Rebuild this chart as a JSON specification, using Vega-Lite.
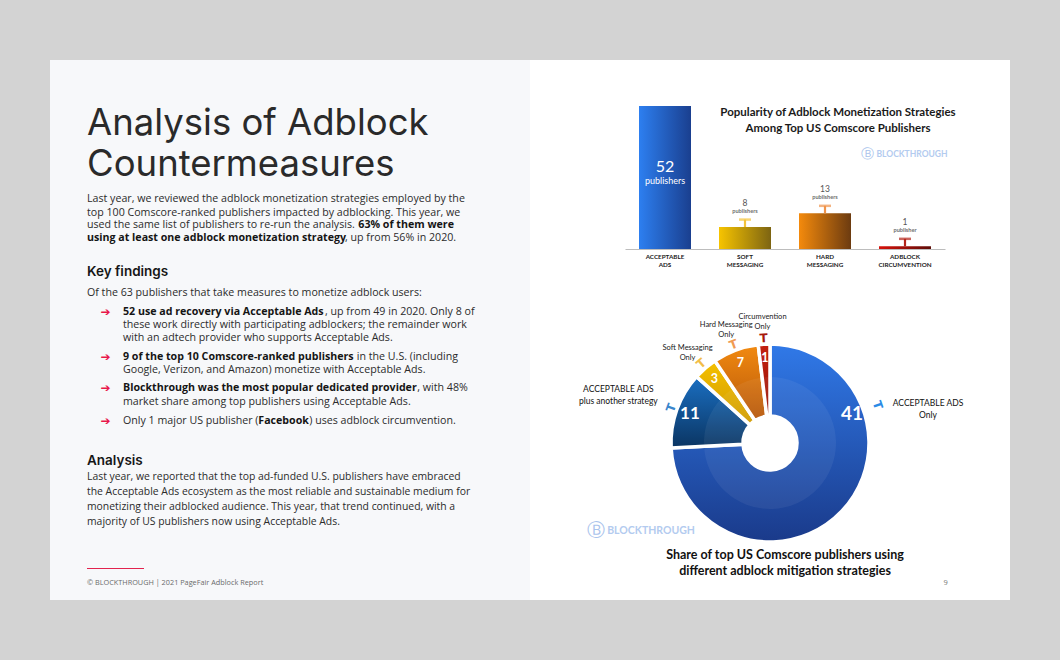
{
  "$schema": "https://vega.github.io/schema/vega-lite/v6.json",
  "background": "#d3d3d3",
  "padding": {"left": 50, "top": 60, "right": 50, "bottom": 60},
  "spacing": 0,
  "bounds": "flush",
  "config": {"view": {"stroke": null}, "concat": {"spacing": 0}},
  "hconcat": [
    {
      "width": 480,
      "height": 540,
      "view": {"fill": "#f7f8fa", "stroke": null},
      "data": {"values": [
        {"part": "title", "x": 37, "y": 75, "t": "Analysis of Adblock"},
        {"part": "title", "x": 37, "y": 115.7, "t": "Countermeasures"},
        {"part": "body", "x": 37, "y": 139.3, "t": "Last year, we reviewed the adblock monetization strategies employed by the"},
        {"part": "body", "x": 37, "y": 152.7, "t": "top 100 Comscore-ranked publishers impacted by adblocking. This year, we"},
        {"part": "body", "x": 37, "y": 165.3, "t": "used the same list of publishers to re-run the analysis."},
        {"part": "bold", "x": 308.3, "y": 165.3, "t": "63% of them were"},
        {"part": "bold", "x": 37, "y": 178, "t": "using at least one adblock monetization strategy"},
        {"part": "body", "x": 295, "y": 178, "t": ", up from 56% in 2020."},
        {"part": "head", "x": 37, "y": 216, "t": "Key findings"},
        {"part": "body", "x": 37, "y": 233.3, "t": "Of the 63 publishers that take measures to monetize adblock users:"},
        {"part": "arrow", "x": 55.5, "y": 251.7, "t": "➔"},
        {"part": "bold", "x": 73, "y": 251.7, "t": "52 use ad recovery via Acceptable Ads"},
        {"part": "body", "x": 275, "y": 251.7, "t": ", up from 49 in 2020. Only 8 of"},
        {"part": "body", "x": 73, "y": 265, "t": "these work directly with participating adblockers; the remainder work"},
        {"part": "body", "x": 73, "y": 278.3, "t": "with an adtech provider who supports Acceptable Ads."},
        {"part": "arrow", "x": 55.5, "y": 297.3, "t": "➔"},
        {"part": "bold", "x": 73, "y": 297.3, "t": "9 of the top 10 Comscore-ranked publishers"},
        {"part": "body", "x": 306.8, "y": 297.3, "t": "in the U.S. (including"},
        {"part": "body", "x": 73, "y": 309.5, "t": "Google, Verizon, and Amazon) monetize with Acceptable Ads."},
        {"part": "arrow", "x": 55.5, "y": 328.3, "t": "➔"},
        {"part": "bold", "x": 73, "y": 328.3, "t": "Blockthrough was the most popular dedicated provider"},
        {"part": "body", "x": 367.3, "y": 328.3, "t": ", with 48%"},
        {"part": "body", "x": 73, "y": 342.3, "t": "market share among top publishers using Acceptable Ads."},
        {"part": "arrow", "x": 55.5, "y": 361, "t": "➔"},
        {"part": "body", "x": 73, "y": 361, "t": "Only 1 major US publisher ("},
        {"part": "bold", "x": 208.3, "y": 361, "t": "Facebook"},
        {"part": "body", "x": 259.3, "y": 361, "t": ") uses adblock circumvention."},
        {"part": "head", "x": 37, "y": 405, "t": "Analysis"},
        {"part": "body2", "x": 37, "y": 416.7, "t": "Last year, we reported that the top ad-funded U.S. publishers have embraced"},
        {"part": "body2", "x": 37, "y": 432, "t": "the Acceptable Ads ecosystem as the most reliable and sustainable medium for"},
        {"part": "body2", "x": 37, "y": 447, "t": "monetizing their adblocked audience. This year, that trend continued, with a"},
        {"part": "body2", "x": 37, "y": 461.7, "t": "majority of US publishers now using Acceptable Ads."},
        {"part": "foot", "x": 37, "y": 523, "t": "© BLOCKTHROUGH | 2021 PageFair Adblock Report"}
      ]},
      "encoding": {
        "x": {"field": "x", "type": "quantitative", "scale": {"domain": [0, 480], "range": [0, 480], "nice": false, "zero": false}, "axis": null},
        "y": {"field": "y", "type": "quantitative", "scale": {"domain": [0, 540], "range": [0, 540], "nice": false, "zero": false}, "axis": null},
        "text": {"field": "t", "type": "nominal"}
      },
      "layer": [
        {"transform": [{"filter": "datum.part === 'title'"}], "mark": {"type": "text", "align": "left", "baseline": "alphabetic", "font": "Inter", "fontSize": 36.5, "fontWeight": 400, "color": "#2a2a2a"}},
        {"transform": [{"filter": "datum.part === 'head'"}], "mark": {"type": "text", "align": "left", "baseline": "alphabetic", "font": "Inter", "fontSize": 13.5, "fontWeight": 600, "color": "#161616"}},
        {"transform": [{"filter": "datum.part === 'body'"}], "mark": {"type": "text", "align": "left", "baseline": "middle", "font": "Open Sans", "fontSize": 10.65, "fontWeight": 400, "color": "#2b2b2b"}},
        {"transform": [{"filter": "datum.part === 'body2'"}], "mark": {"type": "text", "align": "left", "baseline": "middle", "font": "Open Sans", "fontSize": 10.4, "fontWeight": 400, "color": "#2b2b2b"}},
        {"transform": [{"filter": "datum.part === 'bold'"}], "mark": {"type": "text", "align": "left", "baseline": "middle", "font": "Open Sans", "fontSize": 10.65, "fontWeight": 700, "color": "#151515"}},
        {"transform": [{"filter": "datum.part === 'arrow'"}], "mark": {"type": "text", "align": "center", "baseline": "middle", "font": "DejaVu Sans", "fontSize": 12, "color": "#e8174a"}},
        {"transform": [{"filter": "datum.part === 'foot'"}], "mark": {"type": "text", "align": "left", "baseline": "middle", "font": "Open Sans", "fontSize": 7.3, "color": "#6a6a6a"}},
        {"transform": [{"filter": "datum.part === 'foot'"}], "mark": {"type": "rule", "color": "#e2234e", "strokeWidth": 1.2},
         "encoding": {"x": {"datum": 37, "type": "quantitative"}, "x2": {"datum": 94}, "y": {"datum": 508.5, "type": "quantitative"}, "text": null}}
      ]
    },
    {
      "spacing": 0,
      "bounds": "flush",
      "vconcat": [
        {
          "width": 480,
          "height": 226,
          "view": {"fill": "white", "stroke": null},
          "title": {
            "text": ["Popularity of Adblock Monetization Strategies", "Among Top US Comscore Publishers"],
            "orient": "top", "anchor": "middle", "frame": "group", "baseline": "top", "offset": 0,
            "dx": 68, "dy": 74, "font": "Lato", "fontSize": 11.5, "fontWeight": 700, "color": "#1a1a1a", "lineHeight": 16
          },
          "data": {"values": [
            {"cat": "ACCEPTABLE ADS", "n": 52, "hi": null, "unit": "publishers"},
            {"cat": "SOFT MESSAGING", "n": 8, "hi": 10.7, "unit": "publishers"},
            {"cat": "HARD MESSAGING", "n": 13, "hi": 15.7, "unit": "publishers"},
            {"cat": "ADBLOCK CIRCUMVENTION", "n": 1, "hi": 3.7, "unit": "publisher"}
          ]},
          "encoding": {
            "x": {
              "field": "cat", "type": "nominal", "sort": null,
              "scale": {"domain": ["ACCEPTABLE ADS", "SOFT MESSAGING", "HARD MESSAGING", "ADBLOCK CIRCUMVENTION"], "range": [95, 415], "paddingInner": 0.35, "paddingOuter": 0.175},
              "axis": {"title": null, "orient": "bottom", "offset": -37, "domainColor": "#bdbdbd", "domainWidth": 1, "ticks": false, "grid": false, "labelAngle": 0,
                       "labelFont": "Lato", "labelFontSize": 6.3, "labelFontWeight": 700, "labelColor": "#222222", "labelPadding": 4,
                       "labelBaseline": "top", "labelLineHeight": 8.5, "labelLimit": 0, "labelExpr": "split(datum.label, ' ')"}
            }
          },
          "layer": [
            {
              "mark": {"type": "bar"},
              "encoding": {
                "y": {"field": "n", "type": "quantitative", "scale": {"domain": [-13.45, 68.73], "nice": false, "zero": false}, "axis": null},
                "y2": {"datum": 0},
                "color": {
                  "condition": [
                    {"test": "datum.cat === 'ACCEPTABLE ADS'", "value": {"gradient": "linear", "x1": 0, "y1": 0, "x2": 1, "y2": 0, "stops": [{"offset": 0, "color": "#2d7ff0"}, {"offset": 1, "color": "#1a3f8f"}]}},
                    {"test": "datum.cat === 'SOFT MESSAGING'", "value": {"gradient": "linear", "x1": 0, "y1": 0, "x2": 1, "y2": 0, "stops": [{"offset": 0, "color": "#f7c400"}, {"offset": 1, "color": "#7d6412"}]}},
                    {"test": "datum.cat === 'HARD MESSAGING'", "value": {"gradient": "linear", "x1": 0, "y1": 0, "x2": 1, "y2": 0, "stops": [{"offset": 0, "color": "#f48a0c"}, {"offset": 1, "color": "#6c3b10"}]}}
                  ],
                  "value": {"gradient": "linear", "x1": 0, "y1": 0, "x2": 1, "y2": 0, "stops": [{"offset": 0, "color": "#d8120b"}, {"offset": 1, "color": "#5e0d08"}]}
                }
              }
            },
            {
              "transform": [{"filter": "datum.hi != null"}],
              "mark": {"type": "rule", "strokeWidth": 2.2},
              "encoding": {
                "y": {"field": "n", "type": "quantitative", "axis": null},
                "y2": {"field": "hi"},
                "color": {"field": "cat", "type": "nominal", "legend": null,
                          "scale": {"domain": ["ACCEPTABLE ADS", "SOFT MESSAGING", "HARD MESSAGING", "ADBLOCK CIRCUMVENTION"], "range": ["#2d7ff0", "#f3c33a", "#ef934a", "#b3241a"]}}
              }
            },
            {
              "transform": [{"filter": "datum.hi != null"}],
              "mark": {"type": "tick", "thickness": 2.5, "size": 12, "orient": "horizontal"},
              "encoding": {
                "y": {"field": "hi", "type": "quantitative", "axis": null},
                "color": {"field": "cat", "type": "nominal", "legend": null}
              }
            },
            {
              "transform": [{"filter": "datum.cat !== 'ACCEPTABLE ADS'"}],
              "mark": {"type": "text", "dy": -24.5, "font": "Lato", "fontSize": 8.5, "color": "#555555", "baseline": "middle"},
              "encoding": {"y": {"field": "n", "type": "quantitative", "axis": null}, "text": {"field": "n", "type": "quantitative"}}
            },
            {
              "transform": [{"filter": "datum.cat !== 'ACCEPTABLE ADS'"}],
              "mark": {"type": "text", "dy": -16.3, "font": "Lato", "fontSize": 5.6, "fontWeight": 700, "color": "#707070", "baseline": "middle"},
              "encoding": {"y": {"field": "n", "type": "quantitative", "axis": null}, "text": {"field": "unit", "type": "nominal"}}
            },
            {
              "transform": [{"filter": "datum.cat === 'ACCEPTABLE ADS'"}],
              "mark": {"type": "text", "dy": 61, "font": "Lato", "fontSize": 16, "color": "white", "baseline": "middle"},
              "encoding": {"y": {"field": "n", "type": "quantitative", "axis": null}, "text": {"field": "n", "type": "quantitative"}}
            },
            {
              "transform": [{"filter": "datum.cat === 'ACCEPTABLE ADS'"}],
              "mark": {"type": "text", "dy": 75, "font": "Lato", "fontSize": 9, "color": "white", "baseline": "middle"},
              "encoding": {"y": {"field": "n", "type": "quantitative", "axis": null}, "text": {"field": "unit", "type": "nominal"}}
            },
            {
              "transform": [{"filter": "datum.cat === 'ACCEPTABLE ADS'"}],
              "mark": {"type": "text", "dx": -37.7, "fontSize": 13, "color": "#a9c3ec", "baseline": "middle", "font": "DejaVu Sans"},
              "encoding": {"x": {"datum": "ADBLOCK CIRCUMVENTION"}, "y": {"datum": 34.5, "type": "quantitative", "axis": null}, "text": {"value": "Ⓑ"}}
            },
            {
              "transform": [{"filter": "datum.cat === 'ACCEPTABLE ADS'"}],
              "mark": {"type": "text", "dx": 7, "fontSize": 8.5, "fontWeight": 700, "font": "Lato", "color": "#b3cbef", "baseline": "middle"},
              "encoding": {"x": {"datum": "ADBLOCK CIRCUMVENTION"}, "y": {"datum": 34.5, "type": "quantitative", "axis": null}, "text": {"value": "BLOCKTHROUGH"}}
            }
          ]
        },
        {
          "width": 480,
          "height": 314,
          "view": {"fill": "white", "stroke": null},
          "title": {
            "text": ["Share of top US Comscore publishers using", "different adblock mitigation strategies"],
            "orient": "bottom", "anchor": "middle", "frame": "group", "baseline": "top", "offset": 0,
            "dx": 15, "dy": -51, "font": "Lato", "fontSize": 12.5, "fontWeight": 700, "color": "#111111", "lineHeight": 15.5
          },
          "data": {"values": [
            {"idx": 1, "k": "Acceptable Ads only", "n": 41, "share": 74.2, "lab": "ACCEPTABLE ADS\nOnly"},
            {"idx": 2, "k": "Acceptable Ads plus another", "n": 11, "share": 12.5, "lab": "ACCEPTABLE ADS\nplus another strategy"},
            {"idx": 3, "k": "Soft Messaging only", "n": 3, "share": 3.9, "lab": "Soft Messaging\nOnly"},
            {"idx": 4, "k": "Hard Messaging only", "n": 7, "share": 7.5, "lab": "Hard Messaging\nOnly"},
            {"idx": 5, "k": "Circumvention only", "n": 1, "share": 1.9, "lab": "Circumvention\nOnly"}
          ]},
          "layer": [
            {
              "mark": {"type": "arc", "innerRadius": 27, "outerRadius": 99, "stroke": "white", "strokeWidth": 3.5},
              "encoding": {
                "theta": {"field": "share", "type": "quantitative", "stack": true, "scale": {"domain": [0, 100]}},
                "order": {"field": "idx", "type": "quantitative"},
                "detail": {"field": "k", "type": "nominal"},
                "color": {
                  "condition": [
                    {"test": "datum.idx === 1", "value": {"gradient": "linear", "x1": 0, "y1": 0, "x2": 0, "y2": 1, "stops": [{"offset": 0, "color": "#3079e8"}, {"offset": 1, "color": "#1a3a8a"}]}},
                    {"test": "datum.idx === 2", "value": {"gradient": "linear", "x1": 0, "y1": 0, "x2": 0, "y2": 1, "stops": [{"offset": 0, "color": "#1a6fc2"}, {"offset": 1, "color": "#0b3562"}]}},
                    {"test": "datum.idx === 3", "value": {"gradient": "linear", "x1": 0, "y1": 0, "x2": 0, "y2": 1, "stops": [{"offset": 0, "color": "#f5c000"}, {"offset": 1, "color": "#cf9a00"}]}},
                    {"test": "datum.idx === 4", "value": {"gradient": "linear", "x1": 0, "y1": 0, "x2": 0, "y2": 1, "stops": [{"offset": 0, "color": "#f28a10"}, {"offset": 1, "color": "#b5560a"}]}}
                  ],
                  "value": {"gradient": "linear", "x1": 0, "y1": 0, "x2": 0, "y2": 1, "stops": [{"offset": 0, "color": "#c42010"}, {"offset": 1, "color": "#961508"}]}
                }
              }
            },
            {
              "mark": {"type": "arc", "innerRadius": 27, "outerRadius": 66, "fill": "white", "fillOpacity": 0.06},
              "encoding": {
                "theta": {"field": "share", "type": "quantitative", "stack": true, "scale": {"domain": [0, 100]}},
                "order": {"field": "idx", "type": "quantitative"},
                "detail": {"field": "k", "type": "nominal"}
              }
            },
            {
              "mark": {"type": "text", "radius": 85, "font": "Lato", "fontWeight": 700, "color": "white", "baseline": "middle", "align": "center"},
              "encoding": {
                "theta": {"field": "share", "type": "quantitative", "stack": true, "scale": {"domain": [0, 100]}},
                "order": {"field": "idx", "type": "quantitative"},
                "detail": {"field": "k", "type": "nominal"},
                "text": {"condition": {"test": "datum.idx === 1", "value": ""}, "field": "n", "type": "quantitative"},
                "size": {"condition": {"test": "datum.idx === 2", "value": 17}, "value": 12.5}
              }
            },
            {
              "mark": {"type": "text", "radius": 126, "font": "Lato", "fontSize": 7.5, "color": "#1a1a1a", "baseline": "middle", "align": "center", "lineBreak": "\n", "lineHeight": 10},
              "encoding": {
                "theta": {"field": "share", "type": "quantitative", "stack": true, "scale": {"domain": [0, 100]}},
                "order": {"field": "idx", "type": "quantitative"},
                "detail": {"field": "k", "type": "nominal"},
                "text": {"condition": {"test": "datum.idx <= 2", "value": ""}, "field": "lab", "type": "nominal"}
              }
            },
            {
              "mark": {"type": "text", "radius": 161, "font": "Lato", "fontSize": 8.5, "fontWeight": 400, "color": "#111111", "baseline": "middle", "align": "center", "lineBreak": "\n", "lineHeight": 12},
              "encoding": {
                "theta": {"field": "share", "type": "quantitative", "stack": true, "scale": {"domain": [0, 100]}},
                "order": {"field": "idx", "type": "quantitative"},
                "detail": {"field": "k", "type": "nominal"},
                "text": {"condition": {"test": "datum.idx === 2", "field": "lab", "type": "nominal"}, "value": ""}
              }
            },
            {
              "mark": {"type": "text", "radius": 105, "font": "DejaVu Sans", "fontWeight": 700, "fontSize": 12, "baseline": "middle", "align": "center"},
              "encoding": {
                "theta": {"field": "share", "type": "quantitative", "stack": true, "scale": {"domain": [0, 100]}},
                "order": {"field": "idx", "type": "quantitative"},
                "detail": {"field": "k", "type": "nominal"},
                "text": {"condition": {"test": "datum.idx === 1", "value": ""}, "value": "T"},
                "angle": {"condition": [{"test": "datum.idx === 2", "value": 290}, {"test": "datum.idx === 3", "value": 319}, {"test": "datum.idx === 4", "value": 340}], "value": 357},
                "color": {"condition": [{"test": "datum.idx === 2", "value": "#3a86cc"}, {"test": "datum.idx === 3", "value": "#f2bd48"}, {"test": "datum.idx === 4", "value": "#f09a52"}], "value": "#a8180c"}
              }
            },
            {
              "transform": [{"filter": "datum.idx === 1"}],
              "mark": {"type": "text", "radius": 87, "font": "Lato", "fontWeight": 700, "fontSize": 19, "color": "white", "baseline": "middle", "align": "center"},
              "encoding": {"theta": {"datum": 19.6, "type": "quantitative", "scale": {"domain": [0, 100]}, "stack": null}, "text": {"field": "n", "type": "quantitative"}}
            },
            {
              "transform": [{"filter": "datum.idx === 1"}],
              "mark": {"type": "text", "radius": 114, "font": "DejaVu Sans", "fontWeight": 700, "fontSize": 12, "angle": 71, "color": "#2b8be6", "baseline": "middle", "align": "center"},
              "encoding": {"theta": {"datum": 19.6, "type": "quantitative", "scale": {"domain": [0, 100]}, "stack": null}, "text": {"value": "T"}}
            },
            {
              "transform": [{"filter": "datum.idx === 1"}],
              "mark": {"type": "text", "radius": 163, "font": "Lato", "fontSize": 8.5, "fontWeight": 400, "color": "#111111", "baseline": "middle", "align": "center", "lineBreak": "\n", "lineHeight": 12},
              "encoding": {"theta": {"datum": 21.06, "type": "quantitative", "scale": {"domain": [0, 100]}, "stack": null}, "text": {"field": "lab", "type": "nominal"}}
            },
            {
              "transform": [{"filter": "datum.idx === 1"}],
              "mark": {"type": "text", "radius": 195, "font": "DejaVu Sans", "fontSize": 18, "color": "#a9c3ec", "baseline": "middle", "align": "center"},
              "encoding": {"theta": {"datum": 67.55, "type": "quantitative", "scale": {"domain": [0, 100]}, "stack": null}, "text": {"value": "Ⓑ"}}
            },
            {
              "transform": [{"filter": "datum.idx === 1"}],
              "mark": {"type": "text", "radius": 148, "font": "Lato", "fontSize": 10.5, "fontWeight": 700, "color": "#b3cbef", "baseline": "middle", "align": "center"},
              "encoding": {"theta": {"datum": 64.86, "type": "quantitative", "scale": {"domain": [0, 100]}, "stack": null}, "text": {"value": "BLOCKTHROUGH"}}
            },
            {
              "transform": [{"filter": "datum.idx === 1"}],
              "mark": {"type": "text", "radius": 224.5, "font": "Open Sans", "fontSize": 7.5, "color": "#777777", "baseline": "middle", "align": "center"},
              "encoding": {"theta": {"datum": 35.69, "type": "quantitative", "scale": {"domain": [0, 100]}, "stack": null}, "text": {"value": "9"}}
            }
          ]
        }
      ]
    }
  ]
}
